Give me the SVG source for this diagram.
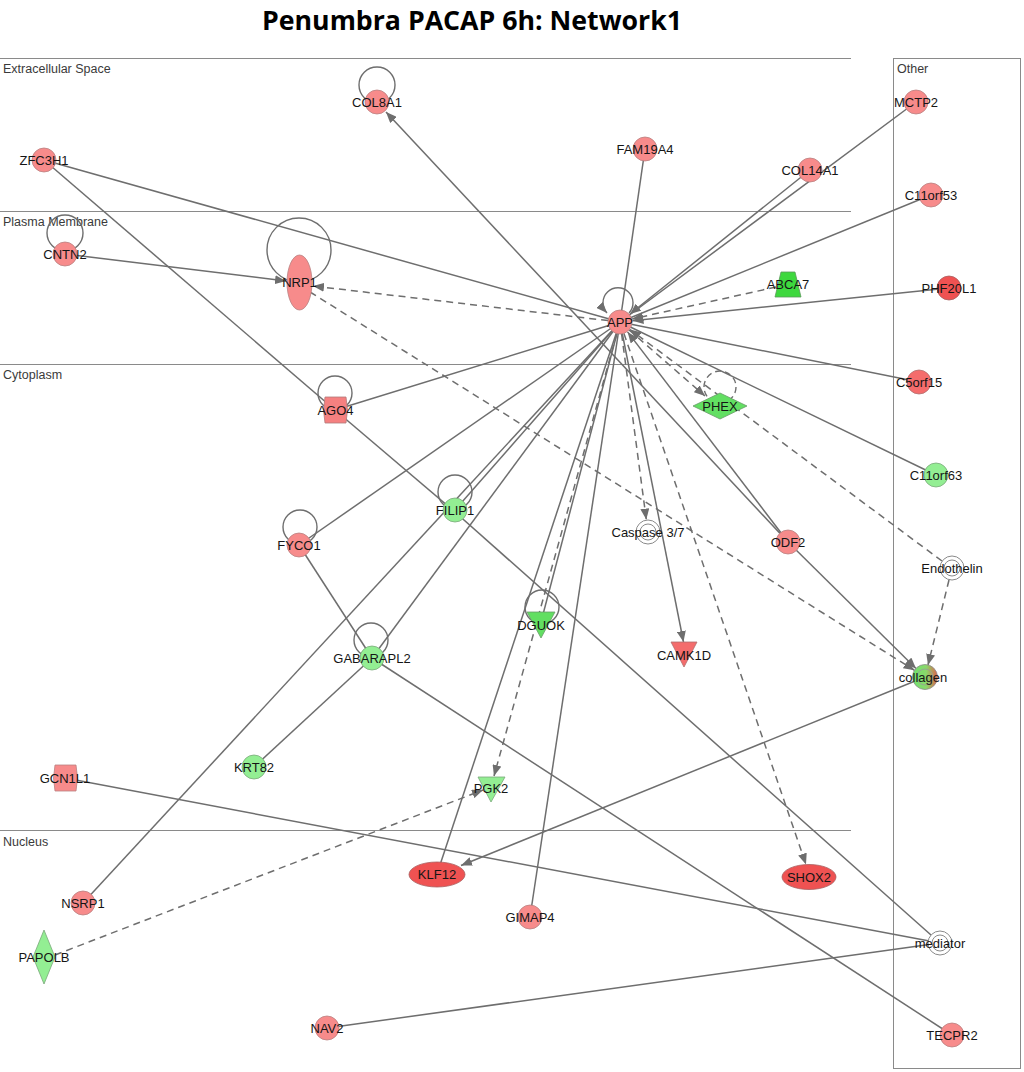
<svg xmlns="http://www.w3.org/2000/svg" width="1024" height="1072" viewBox="0 0 1024 1072">
<style>
.bg{fill:#ffffff}
.region{stroke:#8a8a8a;stroke-width:1;fill:none}
.rlabel{font-family:"Liberation Sans",Arial,sans-serif;font-size:12.5px;fill:#3a3a3a}
.title{font-family:"Open Sans","Liberation Sans",Arial,sans-serif;font-size:27px;font-weight:bold;fill:#000}
.e{stroke:#6e6e6e;stroke-width:1.5;fill:none}
.d{stroke:#6e6e6e;stroke-width:1.5;fill:none;stroke-dasharray:7 5}
.loop{stroke:#6e6e6e;stroke-width:1.4;fill:none}
.r1{fill:#f78b8b;stroke:#b98080;stroke-width:0.8}
.r2{fill:#f46c6c;stroke:#b07070;stroke-width:0.8}
.r3{fill:#ef5252;stroke:#a86060;stroke-width:0.8}
.r4{fill:#f58080;stroke:#b07a7a;stroke-width:0.8}
.g1{fill:#93ee93;stroke:#7aa87a;stroke-width:0.8}
.g2{fill:#62df62;stroke:#6a9a6a;stroke-width:0.8}
.g3{fill:#3ed83e;stroke:#5a9a5a;stroke-width:0.8}
.w{fill:#ffffff;stroke:#8a8a8a;stroke-width:1}
.lbl{font-family:"Liberation Sans",Arial,sans-serif;font-size:13px;fill:#151515;text-anchor:middle}
</style>
<defs>
<marker id="arr" markerUnits="userSpaceOnUse" markerWidth="11" markerHeight="9" refX="11" refY="4.5" orient="auto">
<path d="M0,0 L11,4.5 L0,9 z" fill="#6e6e6e"/>
</marker>
<linearGradient id="colgrad" x1="0" y1="0" x2="1" y2="0">
<stop offset="0" stop-color="#6ee26e"/>
<stop offset="0.55" stop-color="#8ad86a"/>
<stop offset="1" stop-color="#e0604a"/>
</linearGradient>
</defs>
<rect class="bg" x="0" y="0" width="1024" height="1072"/>
<text class="title" x="472" y="30" text-anchor="middle" textLength="420" lengthAdjust="spacingAndGlyphs">Penumbra PACAP 6h: Network1</text>

<g id="regions">
<line class="region" x1="0" y1="58.5" x2="851" y2="58.5"/>
<line class="region" x1="0" y1="211.5" x2="851" y2="211.5"/>
<line class="region" x1="0" y1="364.5" x2="851" y2="364.5"/>
<line class="region" x1="0" y1="830.5" x2="851" y2="830.5"/>
<rect class="region" x="893.5" y="58.5" width="127" height="1010"/>
<text class="rlabel" x="3" y="73">Extracellular Space</text>
<text class="rlabel" x="3" y="226">Plasma Membrane</text>
<text class="rlabel" x="3" y="379">Cytoplasm</text>
<text class="rlabel" x="3" y="846">Nucleus</text>
<text class="rlabel" x="897" y="73">Other</text>
</g>

<g id="connectors">
<line class="e" x1="44" y1="160" x2="620" y2="322"/>
<line class="e" x1="44" y1="160" x2="335" y2="410"/>
<line class="e" x1="335" y1="410" x2="455" y2="512"/>
<line class="e" x1="455" y1="512" x2="940" y2="943"/>
<line class="e" x1="65" y1="254" x2="286" y2="281" marker-end="url(#arr)"/>
<line class="e" x1="788" y1="542" x2="386" y2="112" marker-end="url(#arr)"/>
<line class="e" x1="645" y1="149" x2="620" y2="322"/>
<line class="e" x1="916" y1="102" x2="620" y2="322"/>
<line class="e" x1="810" y1="170" x2="630" y2="314" marker-end="url(#arr)"/>
<line class="e" x1="931" y1="195" x2="620" y2="322"/>
<line class="e" x1="949" y1="288" x2="632.5" y2="320.7" marker-end="url(#arr)"/>
<line class="e" x1="919" y1="382" x2="620" y2="322"/>
<line class="e" x1="936" y1="475" x2="620" y2="322"/>
<line class="e" x1="788" y1="542" x2="627.6" y2="331.9" marker-end="url(#arr)"/>
<line class="e" x1="788" y1="542" x2="916" y2="668.5" marker-end="url(#arr)"/>
<line class="e" x1="620" y1="322" x2="683.5" y2="642" marker-end="url(#arr)"/>
<line class="e" x1="620" y1="322" x2="530" y2="917"/>
<line class="e" x1="620" y1="322" x2="437" y2="874"/>
<line class="e" x1="620" y1="322" x2="541" y2="622"/>
<line class="e" x1="620" y1="322" x2="335" y2="410"/>
<line class="e" x1="620" y1="322" x2="299" y2="545"/>
<line class="e" x1="620" y1="322" x2="455" y2="510"/>
<line class="e" x1="620" y1="322" x2="372" y2="658"/>
<line class="e" x1="620" y1="322" x2="83" y2="903"/>
<line class="e" x1="299" y1="545" x2="372" y2="658"/>
<line class="e" x1="372" y1="658" x2="254" y2="767"/>
<line class="e" x1="372" y1="658" x2="952" y2="1035"/>
<line class="e" x1="925" y1="677" x2="461" y2="865.5" marker-end="url(#arr)"/>
<line class="e" x1="65" y1="778" x2="940" y2="943"/>
<line class="e" x1="327" y1="1028" x2="940" y2="943"/>
<line class="d" x1="620" y1="322" x2="313" y2="286" marker-end="url(#arr)"/>
<line class="d" x1="310" y1="292" x2="914.5" y2="670.3" marker-end="url(#arr)"/>
<line class="d" x1="776" y1="287" x2="632.2" y2="319" marker-end="url(#arr)"/>
<line class="d" x1="620" y1="322" x2="705" y2="396" marker-end="url(#arr)"/>
<line class="d" x1="942" y1="561" x2="630" y2="329.5" marker-end="url(#arr)"/>
<line class="d" x1="949" y1="580" x2="928" y2="665" marker-end="url(#arr)"/>
<line class="d" x1="620" y1="322" x2="646.3" y2="519.6" marker-end="url(#arr)"/>
<line class="d" x1="620" y1="322" x2="806" y2="864.5" marker-end="url(#arr)"/>
<line class="d" x1="620" y1="322" x2="494" y2="776" marker-end="url(#arr)"/>
<line class="d" x1="55" y1="955" x2="483" y2="790" marker-end="url(#arr)"/>
<circle class="loop" cx="377" cy="85" r="18"/>
<circle class="loop" cx="65" cy="233" r="18"/>
<circle class="loop" cx="299" cy="250" r="32"/>
<path class="loop" d="M629,313 A15,15 0 1 0 607,313" marker-end="url(#arr)"/>
<circle class="loop" cx="335" cy="393" r="17"/>
<circle class="loop" cx="720" cy="387" r="16" stroke-dasharray="6 4"/>
<circle class="loop" cx="455" cy="492" r="17"/>
<circle class="loop" cx="300" cy="527" r="17"/>
<circle class="loop" cx="542" cy="607" r="17"/>
<circle class="loop" cx="371" cy="640" r="17"/>
</g>

<g id="node-COL8A1"><circle class="r1" cx="377" cy="102" r="12"/><text class="lbl" x="377" y="106.5">COL8A1</text></g>
<g id="node-ZFC3H1"><circle class="r1" cx="44" cy="160" r="12"/><text class="lbl" x="44" y="164.5">ZFC3H1</text></g>
<g id="node-FAM19A4"><circle class="r1" cx="645" cy="149" r="12"/><text class="lbl" x="645" y="153.5">FAM19A4</text></g>
<g id="node-COL14A1"><circle class="r1" cx="810" cy="170" r="12"/><text class="lbl" x="810" y="174.5">COL14A1</text></g>
<g id="node-MCTP2"><circle class="r1" cx="916" cy="102" r="12"/><text class="lbl" x="916" y="106.5">MCTP2</text></g>
<g id="node-C11orf53"><circle class="r1" cx="931" cy="195" r="12"/><text class="lbl" x="931" y="199.5">C11orf53</text></g>
<g id="node-CNTN2"><circle class="r1" cx="65" cy="254" r="12"/><text class="lbl" x="65" y="258.5">CNTN2</text></g>
<g id="node-NRP1"><ellipse class="r1" cx="299.5" cy="282.5" rx="12.5" ry="27.5"/><text class="lbl" x="299.5" y="287">NRP1</text></g>
<g id="node-ABCA7"><polygon class="g3" points="781,272 795,272 801,297 775,297"/><text class="lbl" x="788" y="289">ABCA7</text></g>
<g id="node-PHF20L1"><circle class="r3" cx="949" cy="288" r="12"/><text class="lbl" x="949" y="292.5">PHF20L1</text></g>
<g id="node-APP"><circle class="r1" cx="620" cy="322" r="12"/><text class="lbl" x="620" y="326.5">APP</text></g>
<g id="node-C5orf15"><circle class="r2" cx="919" cy="382" r="12"/><text class="lbl" x="919" y="386.5">C5orf15</text></g>
<g id="node-AGO4"><polygon class="r4" points="325,397 346,397 347.5,410 346,423 325,423 323.5,410"/><text class="lbl" x="335.5" y="414.5">AGO4</text></g>
<g id="node-PHEX"><polygon class="g2" points="693,406 720,393 747,406 720,419"/><text class="lbl" x="720" y="410.5">PHEX</text></g>
<g id="node-C11orf63"><circle class="g1" cx="936" cy="475" r="12"/><text class="lbl" x="936" y="479.5">C11orf63</text></g>
<g id="node-FILIP1"><circle class="g1" cx="455" cy="510" r="12"/><text class="lbl" x="455" y="514.5">FILIP1</text></g>
<g id="node-FYCO1"><circle class="r1" cx="299" cy="545" r="12"/><text class="lbl" x="299" y="549.5">FYCO1</text></g>
<g id="node-Caspase"><circle class="w" cx="648" cy="532" r="12"/><circle class="w" cx="648" cy="532" r="8"/><text class="lbl" x="648" y="536.5">Caspase 3/7</text></g>
<g id="node-ODF2"><circle class="r1" cx="788" cy="542" r="12"/><text class="lbl" x="788" y="546.5">ODF2</text></g>
<g id="node-Endothelin"><circle class="w" cx="952" cy="568" r="12"/><circle class="w" cx="952" cy="568" r="8"/><text class="lbl" x="952" y="572.5">Endothelin</text></g>
<g id="node-DGUOK"><polygon class="g2" points="527,612 555,612 541,638"/><text class="lbl" x="541" y="630">DGUOK</text></g>
<g id="node-GABARAPL2"><circle class="g1" cx="372" cy="658" r="12"/><text class="lbl" x="372" y="662.5">GABARAPL2</text></g>
<g id="node-CAMK1D"><polygon class="r2" points="671,642 697,642 684,667"/><text class="lbl" x="684" y="659.5">CAMK1D</text></g>
<g id="node-collagen"><circle cx="925" cy="677" r="12.5" fill="url(#colgrad)" stroke="#8a8a8a" stroke-width="0.8"/><circle cx="925" cy="677" r="8" fill="none" stroke="#9a9a9a" stroke-width="0.8"/><text class="lbl" x="923" y="681.5">collagen</text></g>
<g id="node-KRT82"><circle class="g1" cx="254" cy="767" r="12"/><text class="lbl" x="254" y="771.5">KRT82</text></g>
<g id="node-GCN1L1"><polygon class="r1" points="55,765 76,765 77.5,778 76,791 55,791 53.5,778"/><text class="lbl" x="65" y="782.5">GCN1L1</text></g>
<g id="node-PGK2"><polygon class="g1" points="478,777 505,777 491,802"/><text class="lbl" x="491" y="793">PGK2</text></g>
<g id="node-KLF12"><ellipse class="r3" cx="437" cy="874.5" rx="28" ry="12.5"/><text class="lbl" x="437" y="879">KLF12</text></g>
<g id="node-SHOX2"><ellipse class="r3" cx="809" cy="877" rx="27" ry="12.5"/><text class="lbl" x="809" y="881.5">SHOX2</text></g>
<g id="node-NSRP1"><circle class="r1" cx="83" cy="903" r="12"/><text class="lbl" x="83" y="907.5">NSRP1</text></g>
<g id="node-GIMAP4"><circle class="r1" cx="530" cy="917" r="12"/><text class="lbl" x="530" y="921.5">GIMAP4</text></g>
<g id="node-mediator"><circle class="w" cx="940" cy="943" r="12"/><circle class="w" cx="940" cy="943" r="8"/><text class="lbl" x="940" y="947.5">mediator</text></g>
<g id="node-PAPOLB"><polygon class="g1" points="44,930 55,957 44,984 33,957"/><text class="lbl" x="44" y="961.5">PAPOLB</text></g>
<g id="node-NAV2"><circle class="r1" cx="327" cy="1028" r="12"/><text class="lbl" x="327" y="1032.5">NAV2</text></g>
<g id="node-TECPR2"><circle class="r1" cx="952" cy="1035" r="12"/><text class="lbl" x="952" y="1039.5">TECPR2</text></g>
</svg>
